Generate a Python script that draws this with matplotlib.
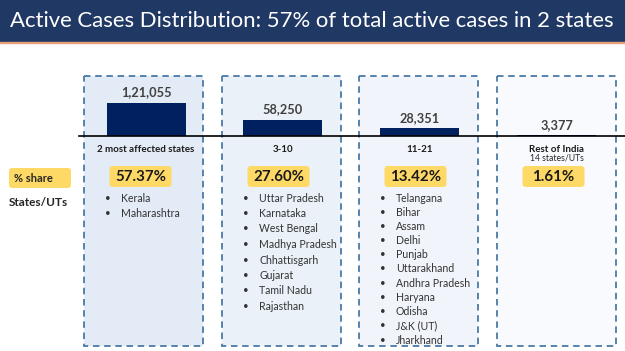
import matplotlib
matplotlib.use("Agg")
import matplotlib.pyplot as plt
from matplotlib.patches import Rectangle, FancyBboxPatch

plt.rcParams['font.family'] = ['Lato', 'DejaVu Sans']

# ---- data ----
groups = ["2 most affected states", "3-10", "11-21", "Rest of India"]
group_sub = ["", "", "", "14 states/UTs"]
active_cases = [121055, 58250, 28351, 3377]
value_labels = ["1,21,055", "58,250", "28,351", "3,377"]
share_pct = ["57.37%", "27.60%", "13.42%", "1.61%"]
states_top2 = ["Kerala", "Maharashtra"]
states_3_10 = ["Uttar Pradesh", "Karnataka", "West Bengal", "Madhya Pradesh",
               "Chhattisgarh", "Gujarat", "Tamil Nadu", "Rajasthan"]
states_11_21 = ["Telangana", "Bihar", "Assam", "Delhi", "Punjab", "Uttarakhand",
                "Andhra Pradesh", "Haryana", "Odisha", "J&K (UT)", "Jharkhand"]
states_rest = []
state_lists = [states_top2, states_3_10, states_11_21, states_rest]
title = "Active Cases Distribution: 57% of total active cases in 2 states"

W, H = 625, 351
fig = plt.figure(figsize=(W / 100, H / 100), dpi=100)
fig.patch.set_facecolor("white")

# background axes in pixel coordinates
ax0 = fig.add_axes([0, 0, 1, 1])
ax0.set_xlim(0, W)
ax0.set_ylim(H, 0)
ax0.axis("off")

# title band
ax0.add_patch(Rectangle((0, 0), W, 41.5, color="#203864", zorder=1))
ax0.add_patch(Rectangle((0, 41.5), W, 1.6, color="#e9a07a", zorder=1))
ax0.text(10, 21, title, color="white", fontsize=15.9, va="center", ha="left", zorder=2)

# dashed group boxes
box_left = [84, 222, 359, 497]
box_w = 119
box_top, box_bot = 76, 346
fills = ["#e2ebf6", "#eaf1f9", "#f1f5fb", "#f8fafd"]
for bl, fc in zip(box_left, fills):
    ax0.add_patch(Rectangle((bl, box_top), box_w, box_bot - box_top, facecolor=fc,
                            edgecolor="#4a7aa6", lw=1.3, linestyle=(0, (3.6, 2.6)), zorder=1))

# left row labels
ax0.add_patch(FancyBboxPatch((9, 168), 62, 20, boxstyle="round,pad=0,rounding_size=3",
                             facecolor="#ffd966", edgecolor="none", zorder=2))
ax0.text(14, 178.3, "% share", fontsize=8, fontweight="bold", color="#262626",
         va="center", ha="left", zorder=3)
ax0.text(9, 203, "States/UTs", fontsize=8.5, fontweight="bold", color="#262626",
         va="center", ha="left", zorder=3)

# share boxes and state lists
for i, bl in enumerate(box_left):
    cx = bl + box_w / 2 - 3
    ax0.add_patch(FancyBboxPatch((cx - 31, 166), 62, 21, boxstyle="round,pad=0,rounding_size=3.5",
                                 facecolor="#ffd966", edgecolor="none", zorder=2))
    ax0.text(cx, 176.8, share_pct[i], fontsize=10.8, fontweight="bold", color="#1a1a1a",
             ha="center", va="center", zorder=3)
    items = state_lists[i]
    step = 15.5 if len(items) <= 8 else 14.2
    for k, s in enumerate(items):
        y = 198 + k * step
        ax0.text(bl + 24, y, "\u2022", fontsize=7, color="#333333", ha="center", va="center", zorder=3)
        ax0.text(bl + 37, y, s, fontsize=7.6, color="#333333", ha="left", va="center", zorder=3)

# bar axes
base_px = 136
top_px = 76
x0_px, x1_px = 79, 625
ax = fig.add_axes([x0_px / W, (H - base_px) / H, (x1_px - x0_px) / W, (base_px - top_px) / H])
ax.patch.set_alpha(0)
ax.set_xlim(-0.49, 3.5)
ymax = active_cases[0] * (base_px - top_px) / 33.5
ax.set_ylim(0, ymax)
ax.axis("off")
xs = list(range(len(groups)))
ax.bar(xs, active_cases, width=79 / 137, color="#002060", zorder=3)
ax.axhline(0, color="black", lw=1.2, zorder=4, clip_on=False)
for i, v in enumerate(active_cases):
    ax.annotate(value_labels[i], (xs[i], v), xytext=(0, 7.5), textcoords="offset points",
                ha="center", va="center", fontsize=9.2, fontweight="bold", color="#404040",
                annotation_clip=False)
    ax.annotate(groups[i], (xs[i], 0), xytext=(0, -9.4), textcoords="offset points",
                ha="center", va="center", fontsize=7, fontweight="bold", color="#1a1a1a",
                annotation_clip=False)
    if group_sub[i]:
        ax.annotate(group_sub[i], (xs[i], 0), xytext=(0, -16), textcoords="offset points",
                    ha="center", va="center", fontsize=6.2, color="#262626",
                    annotation_clip=False)

fig.savefig("out.png", dpi=100, facecolor="white")
